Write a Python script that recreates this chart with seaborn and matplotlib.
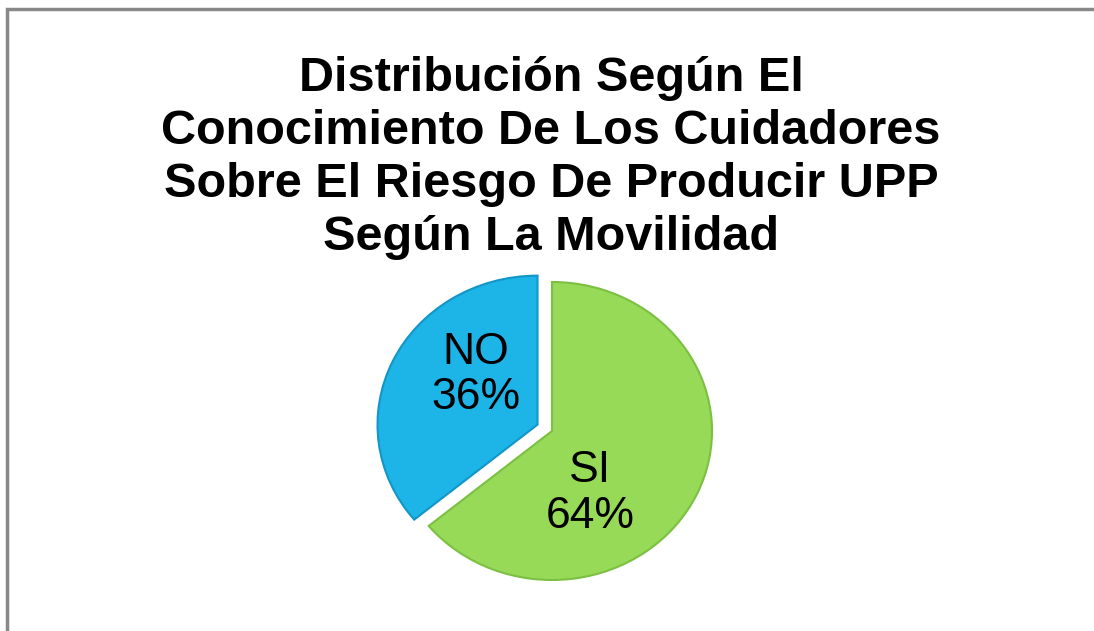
import matplotlib

matplotlib.use("Agg")
import matplotlib.pyplot as plt
import seaborn as sns
from matplotlib.patches import Rectangle

# data
categories = ["SI", "NO"]
values = [64, 36]
colors = ["#97DA58", "#1DB4E8"]
edge_colors = ["#7CC043", "#1296C8"]
explode = [0.0, 0.1]
title = "Distribución Según El\nConocimiento De Los Cuidadores\nSobre El Riesgo De Producir UPP\nSegún La Movilidad"

# label centres in pie units (Excel puts them off the mid ray)
label_pos = [(0.24, -0.42), (-0.475, 0.376)]

W, H = 1094, 631
sns.set_theme(style="white")
plt.rcParams["font.family"] = ["Liberation Sans", "DejaVu Sans"]

fig = plt.figure(figsize=(W / 100, H / 100), dpi=100)
fig.patch.set_facecolor("white")

# gray frame of the chart area (only left and top visible)
fig.add_artist(Rectangle((7 / W, -0.1), 1.2, (H - 9) / H + 0.1, transform=fig.transFigure,
                         fill=False, edgecolor="#888888", linewidth=2.5))

fig.text(551 / W, 1 - 56 / H, title, ha="center", va="top", fontsize=35,
         fontweight="bold", linespacing=1.23, color="black")

# pie centre (552, 431) px, radii 160 x 149 px (slight tilt)
cx, cy, rx, ry = 552, 431, 160, 149
lim = 1.5
ax = fig.add_axes([(cx - rx * lim) / W, (H - cy - ry * lim) / H, 2 * rx * lim / W, 2 * ry * lim / H])
wedges, _ = ax.pie(values, colors=colors, explode=explode, startangle=90, counterclock=False,
                   wedgeprops=dict(linewidth=1.5))
for w, ec in zip(wedges, edge_colors):
    w.set_edgecolor(ec)
ax.set_aspect("auto")
ax.set_xlim(-lim, lim)
ax.set_ylim(-lim, lim)
ax.axis("off")

for cat, v, (lx, ly) in zip(categories, values, label_pos):
    ax.text(lx, ly, f"{cat}\n{v}%", ha="center", va="center", fontsize=32,
            linespacing=1.15, color="black")

fig.savefig("out.png", dpi=100, facecolor="white")
